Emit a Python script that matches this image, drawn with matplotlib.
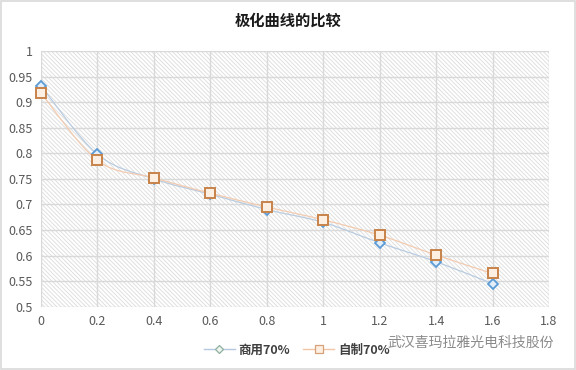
import numpy as np
import matplotlib
matplotlib.use("Agg")
import matplotlib.pyplot as plt
from matplotlib.path import Path
from matplotlib.patches import PathPatch, Rectangle

plt.rcParams['font.family'] = ['Noto Sans CJK SC', 'DejaVu Sans']
plt.rcParams['hatch.color'] = '#dcdcdc'
plt.rcParams['hatch.linewidth'] = 0.6

# data
x = [0, 0.2, 0.4, 0.6, 0.8, 1.0, 1.2, 1.4, 1.6]
shangyong = [0.932, 0.798, 0.750, 0.720, 0.690, 0.665, 0.625, 0.588, 0.545]
zizhi = [0.918, 0.786, 0.752, 0.722, 0.695, 0.670, 0.640, 0.601, 0.565]
labels = ["商用70%", "自制70%"]
title = "极化曲线的比较"


def smooth_path(xs, ys):
    # excel style smoothing: bezier segments through the points
    p = np.column_stack([xs, ys])
    n = len(p)
    verts = [p[0]]
    codes = [Path.MOVETO]
    for i in range(n - 1):
        p0 = p[max(i - 1, 0)]
        p1 = p[i]
        p2 = p[i + 1]
        p3 = p[min(i + 2, n - 1)]
        c1 = p1 + (p2 - p0) / 6
        c2 = p2 - (p3 - p1) / 6
        verts += [c1, c2, p2]
        codes += [Path.CURVE4] * 3
    return Path(verts, codes)


fig = plt.figure(figsize=(5.76, 3.70), dpi=100)
ax = fig.add_axes([0.0712, 0.171, 0.882, 0.691])

# hatched plot area
ax.add_patch(Rectangle((0, 0), 1, 1, transform=ax.transAxes, facecolor='white',
                       hatch='\\' * 8, edgecolor='#dcdcdc', linewidth=0, zorder=0))

ax.add_patch(PathPatch(smooth_path(x, shangyong), facecolor='none',
                       edgecolor='#b9cce0', linewidth=0.9, zorder=3))
ax.add_patch(PathPatch(smooth_path(x, zizhi), facecolor='none',
                       edgecolor='#f2cbb0', linewidth=0.9, zorder=3))

ax.plot(x, shangyong, linestyle='none', marker='D', markersize=5.5, clip_on=False,
        markerfacecolor='#e3eef9', markeredgecolor='#5b9bd5', markeredgewidth=1.3, zorder=4)
ax.plot(x, zizhi, linestyle='none', marker='s', markersize=7.5, clip_on=False,
        markerfacecolor='#fdf0e2', markeredgecolor='#c8834a', markeredgewidth=1.4, zorder=5)

# legend handles
h1, = ax.plot([], [], color='#b4c9e0', linewidth=1.0, marker='D', markersize=4,
              markerfacecolor='#eef5ee', markeredgecolor='#8fb0a0', markeredgewidth=0.9)
h2, = ax.plot([], [], color='#f2c6a4', linewidth=1.0, marker='s', markersize=6,
              markerfacecolor='#fdf0e2', markeredgecolor='#d6a07a', markeredgewidth=0.9)
leg = fig.legend([h1, h2], labels, loc='center', bbox_to_anchor=(0.515, 0.054),
                 ncol=2, frameon=False, handlelength=2.5, handletextpad=0.3,
                 columnspacing=1.0, prop={'size': 9, 'weight': 'bold'})
for t in leg.get_texts():
    t.set_color('#404040')

ax.set_xlim(0, 1.8)
ax.set_ylim(0.5, 1.0)
ax.set_xticks(np.arange(0, 1.81, 0.2))
ax.set_xticklabels(["0", "0.2", "0.4", "0.6", "0.8", "1", "1.2", "1.4", "1.6", "1.8"])
ax.set_yticks(np.arange(0.5, 1.001, 0.05))
ax.set_yticklabels(["0.5", "0.55", "0.6", "0.65", "0.7", "0.75", "0.8", "0.85", "0.9", "0.95", "1"])
ax.tick_params(length=0, labelsize=9, labelcolor='#595959', pad=6)
ax.grid(True, color='#d9d9d9', linewidth=1.0, zorder=1)
ax.set_axisbelow(True)
for s in ax.spines.values():
    s.set_visible(False)

fig.text(0.5, 0.945, title, ha='center', va='center', fontsize=11, fontweight='bold', color='#1a1a1a')

# watermark
fig.text(0.672, 0.073, "武汉喜玛拉雅光电科技股份", ha='left', va='center', fontsize=10,
         color='#8a8a8a')

fig.patches.append(Rectangle((0.001, 0.003), 0.998, 0.994, transform=fig.transFigure,
                             facecolor='none', edgecolor='#d9d9d9', linewidth=1.2))

fig.savefig("out.png", dpi=100)
